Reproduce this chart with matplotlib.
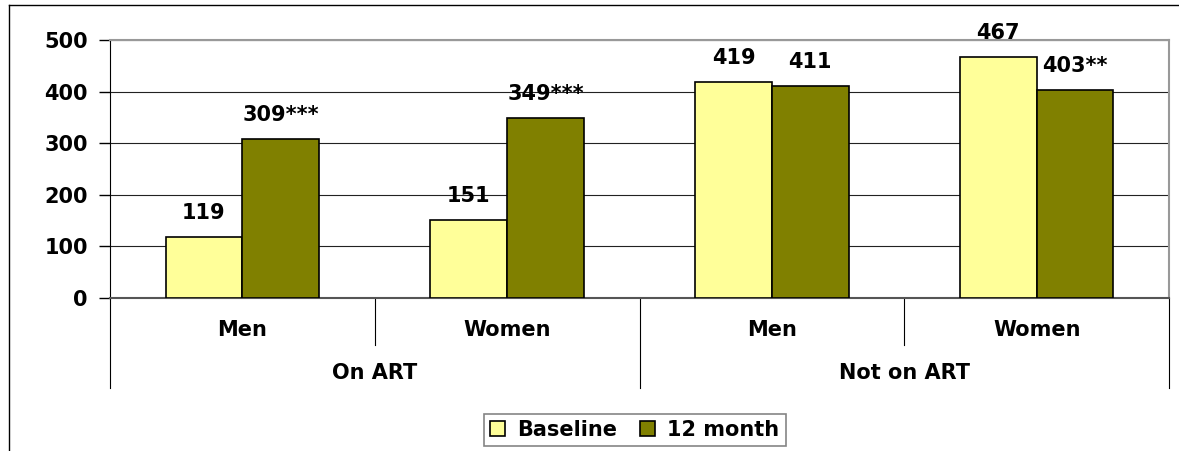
import numpy as np
import matplotlib.pyplot as plt
from matplotlib.lines import Line2D

plt.rcParams['font.family'] = ['DejaVu Sans']
plt.rcParams['font.weight'] = 'bold'

# datos
sub_labels = ["Men", "Women", "Men", "Women"]
group_labels = ["On ART", "Not on ART"]
baseline = [119, 151, 419, 467]
month12 = [309, 349, 411, 403]
base_txt = ["119", "151", "419", "467"]
m12_txt = ["309***", "349***", "411", "403**"]

fs = 15

fig = plt.figure(figsize=(11.79, 4.51), dpi=100)
ax = fig.add_axes([110/1179, 1-298/451, 1059/1179, 258/451])

x = np.arange(len(sub_labels))
w = 0.29
b1 = ax.bar(x - w/2, baseline, w, color="#FFFF99", edgecolor="black", linewidth=1.2, label="Baseline", zorder=3)
b2 = ax.bar(x + w/2, month12, w, color="#808000", edgecolor="black", linewidth=1.2, label="12 month", zorder=3)

for i in range(len(x)):
    ax.annotate(base_txt[i], (x[i] - w/2, baseline[i]), xytext=(0, 10), textcoords="offset points",
                ha="center", va="bottom", fontsize=fs, fontweight="bold", annotation_clip=False)
    ax.annotate(m12_txt[i], (x[i] + w/2, month12[i]), xytext=(0, 10), textcoords="offset points",
                ha="center", va="bottom", fontsize=fs, fontweight="bold", annotation_clip=False)

ax.set_xlim(-0.5, 3.5)
ax.set_ylim(0, 500)
ax.set_yticks([0, 100, 200, 300, 400, 500])
ax.yaxis.grid(True, color="#222222", linewidth=0.8, zorder=0)
ax.tick_params(axis="y", length=8, width=1, labelsize=fs, pad=8)
ax.tick_params(axis="x", length=0, labelbottom=False)
for t in ax.get_yticklabels():
    t.set_fontweight("bold")
ax.spines["left"].set_color("black")
ax.spines["bottom"].set_color("#555555")
ax.spines["bottom"].set_linewidth(1.5)
ax.spines["top"].set_color("#999999")
ax.spines["right"].set_color("#999999")
ax.spines["top"].set_linewidth(1.5)
ax.spines["right"].set_linewidth(1.5)

# etiquetas de categorias
tr = ax.get_xaxis_transform()
for i, s in enumerate(sub_labels):
    ax.text(x[i], -0.125, s, transform=tr, ha="center", va="center", fontsize=fs, fontweight="bold")
for j, g in enumerate(group_labels):
    ax.text(0.5 + 2*j, -0.29, g, transform=tr, ha="center", va="center", fontsize=fs, fontweight="bold")

# separadores
for xs in [0.5, 2.5]:
    ax.plot([xs, xs], [0, -0.182], transform=tr, color="black", linewidth=0.8, clip_on=False)
for xs in [-0.5, 1.5, 3.5]:
    ax.plot([xs, xs], [0, -0.349], transform=tr, color="black", linewidth=0.8, clip_on=False)

# marco exterior
fig.add_artist(Line2D([9/1179, 9/1179], [0, 1-5/451], color="black", linewidth=1))
fig.add_artist(Line2D([9/1179, 1], [1-5/451, 1-5/451], color="black", linewidth=1))

leg = fig.legend(handles=[b1, b2], loc="center", bbox_to_anchor=(635/1179, 1-430/451), ncol=2,
                 fancybox=False, frameon=True, edgecolor="#666666", fontsize=fs,
                 handlelength=0.7, handleheight=0.7, handletextpad=0.6, columnspacing=1.1,
                 borderpad=0.3)
leg.get_frame().set_linewidth(1.2)
for t in leg.get_texts():
    t.set_fontweight("bold")

fig.savefig("out.png", dpi=100)
